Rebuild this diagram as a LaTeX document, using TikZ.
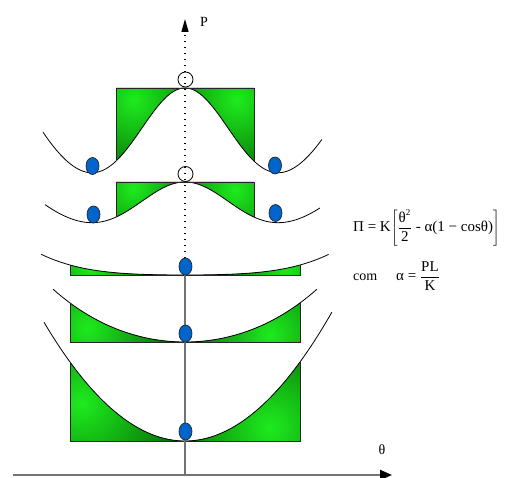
\documentclass[tikz,border=0pt]{standalone}
\usepackage{fontspec}
\setmainfont{Liberation Serif}
\usetikzlibrary{arrows.meta,shapes.geometric}
\definecolor{gl}{RGB}{30,235,30}
\definecolor{gd}{RGB}{0,80,0}
\definecolor{ballblue}{RGB}{0,100,205}
\definecolor{axgray}{RGB}{115,115,115}
\newcommand\gshade[4]{%
\begin{scope}
 \clip #1;
 \fill[gd] (0,0) rectangle (507,478);
 \begin{scope}\clip (0,0) rectangle (185,478); \shade[inner color=gl, outer color=gd] #2 circle (#4); \end{scope}
 \begin{scope}\clip (185,0) rectangle (507,478); \shade[inner color=gl, outer color=gd] #3 circle (#4); \end{scope}
\end{scope}}
\begin{document}
\begin{tikzpicture}[x=1pt,y=-1pt,
  declare function={dw(\t)=164*(1-exp(-\t*\t/0.5))-58*\t*\t;
                    pw(\t,\a)=158*(\t*\t/2-\a*(1-cos(\t r)));},
  curve/.style={black, line width=0.8pt, smooth},
  boxline/.style={black!85, line width=0.9pt},
  ball/.style={ellipse, draw=black!85, line width=0.7pt, fill=ballblue, minimum width=13pt, minimum height=17pt, inner sep=0pt},
  ring/.style={circle, draw=black, line width=0.8pt, minimum size=15pt, inner sep=0pt},
  dotline/.style={line width=1.3pt, dash pattern=on 1.3pt off 4.7pt, -{Triangle[length=13pt,width=7pt]}},
  lab/.style={font=\fontsize{14}{16}\selectfont, inner sep=0pt},
  eqlab/.style={font=\fontsize{15}{17}\selectfont, inner sep=0pt}]
\useasboundingbox (0,0) rectangle (507,478);
% green regions
\gshade{(116,88) -- (254,88) -- plot[domain=0.69:-0.69,samples=60] ({185+100*\x},{88+dw(\x)}) -- cycle}{(134,100)}{(237,100)}{100pt}
\gshade{(116,182) -- (254,182) -- plot[domain=0.69:-0.69,samples=60] ({185+100*\x},{182+0.48*dw(\x)}) -- cycle}{(133,188)}{(235,190)}{85pt}
\gshade{(70,275) -- (300,275) -- plot[domain=1:-1,samples=60] ({185+115*\x},{275-pw(\x,0.95)}) -- cycle}{(90,268)}{(285,268)}{80pt}
\gshade{(70,342) -- (300,342) -- plot[domain=1:-1,samples=60] ({185+115*\x},{342-pw(\x,0.55)}) -- cycle}{(87,328)}{(270,335)}{105pt}
\gshade{(70,441) -- (300,441) -- plot[domain=1:-1,samples=60] ({185+115*\x},{441-pw(\x,0)}) -- cycle}{(82,403)}{(270,427)}{125pt}
% curves
\draw[curve] plot[domain=-1.42:1.37,samples=120] ({185+100*\x},{88+dw(\x)});
\draw[curve] plot[domain=-1.40:1.35,samples=120] ({185+100*\x},{182+0.48*dw(\x)});
\draw[curve] plot[domain=-1.25:1.25,samples=100] ({185+115*\x},{275-pw(\x,0.95)});
\draw[curve] plot[domain=-1.148:1.148,samples=100] ({185+115*\x},{342-pw(\x,0.55)});
\draw[curve] plot[domain=-1.226:1.278,samples=100] ({185+115*\x},{441-pw(\x,0)});
% box outlines
\draw[boxline] (116,{88+dw(-0.69)}) -- (116,88) -- (254,88) -- (254,{88+dw(0.69)});
\draw[boxline] (116,{182+0.48*dw(-0.69)}) -- (116,182) -- (254,182) -- (254,{182+0.48*dw(0.69)});
\draw[boxline] (70,{275-pw(-1,0.95)}) -- (70,275) -- (300,275) -- (300,{275-pw(1,0.95)});
\draw[boxline] (70,{342-pw(-1,0.55)}) -- (70,342) -- (300,342) -- (300,{342-pw(1,0.55)});
\draw[boxline] (70,{441-pw(-1,0)}) -- (70,441) -- (300,441) -- (300,{441-pw(1,0)});
% axes
\coordinate (xs) at (13,475);
\coordinate (xe) at (392,475);
\coordinate (O) at (185,475);
\coordinate (vs) at (185,275);
\coordinate (dtop) at (185,258);
\coordinate (ptip) at (185,19);
\draw[axgray, line width=2pt, -{Triangle[length=12pt,width=10pt,color=black]}] (xs) -- (xe);
\draw[axgray, line width=1.5pt] (vs) -- (O);
\draw[dotline] (dtop) -- (ptip);
% balls
\node[ball] (b1l) at (92.5,166) {};
\node[ball] (b1r) at (275,165.5) {};
\node[ball] (b2l) at (93.5,214.5) {};
\node[ball] (b2r) at (275.5,213) {};
\node[ball] (b3) at (185.5,266.5) {};
\node[ball] (b4) at (185.5,333.5) {};
\node[ball] (b5) at (185.5,431.5) {};
\node[ring] (c1) at (185.5,79.5) {};
\node[ring] (c2) at (185.5,174) {};
% labels
\node[lab] (lp) at (204,22) {P};
\node[lab] (lth) at (382,450) {θ};
\node[eqlab, anchor=base west] (eq) at (353,232) {Π = K$\left[\rule[-8pt]{0pt}{26pt}\displaystyle\frac{\mbox{θ}^{\mbox{\fontsize{9}{10}\selectfont 2}}}{\mbox{2}}\mbox{ - α(1 − cosθ)}\right]$};
\node[lab, anchor=base west] (com) at (353,281) {com};
\node[eqlab, anchor=base west] (al) at (396,281) {α = $\displaystyle\frac{\mbox{PL}}{\mbox{K}}$};
\end{tikzpicture}
\end{document}
